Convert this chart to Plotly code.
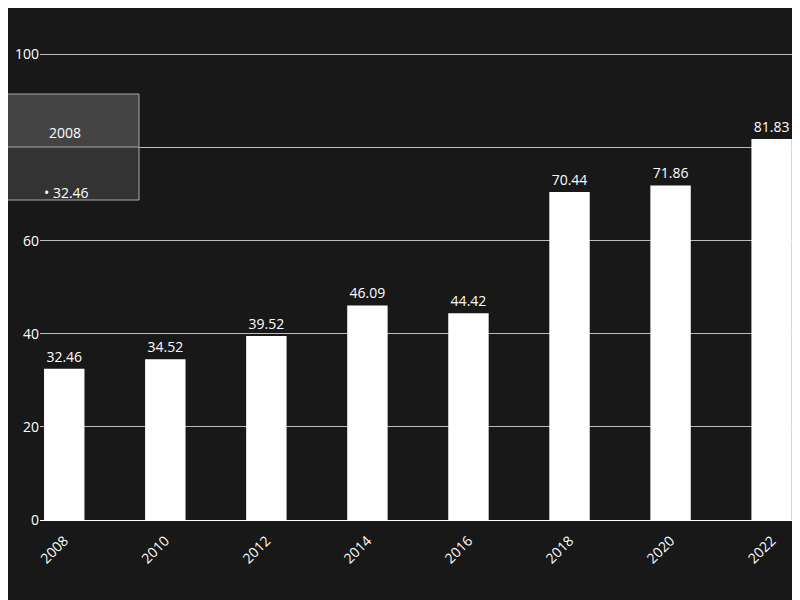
import plotly.graph_objects as go

years = ["2008", "2010", "2012", "2014", "2016", "2018", "2020", "2022"]
values = [32.46, 34.52, 39.52, 46.09, 44.42, 70.44, 71.86, 81.83]
yticks = [0, 20, 40, 60, 80, 100]

OFF = 8  # page body offset
W, H = 800, 600
L, T = 40 - OFF, 53 - OFF
B = H - (520 - OFF)
R = 0
pw, ph = W - L - R, H - T - B
def px(x): return (x - OFF - L) / pw
def py(y): return (H - B - (y - OFF)) / ph

fig = go.Figure(go.Bar(
    x=list(range(len(years))), y=values, width=0.4,
    marker=dict(color="#ffffff", line=dict(width=0)),
    text=[f"{v:.2f}" for v in values], textposition="outside",
    textfont=dict(color="#ffffff", size=14), cliponaxis=False,
))
fig.update_layout(
    width=W, height=H, margin=dict(l=L, r=R, t=T, b=B),
    paper_bgcolor="#181818", plot_bgcolor="#181818",
    font=dict(family="Open Sans", color="#ffffff", size=14),
    showlegend=False,
    xaxis=dict(range=[-0.24, 7.36], tickvals=list(range(len(years))), ticktext=years,
               tickangle=-45, showgrid=False, showline=True, linecolor="#ffffff",
               ticks="outside", ticklen=6, tickcolor="rgba(0,0,0,0)", tickfont=dict(size=14)),
    yaxis=dict(range=[0, 100.3], tickvals=yticks, gridcolor="#bbbbbb", gridwidth=1,
               zeroline=False, tickfont=dict(size=14)),
    shapes=[
        dict(type="rect", xref="paper", yref="paper", x0=px(-10), x1=px(139), y0=py(94), y1=py(147),
             fillcolor="#444444", line=dict(width=0), layer="above"),
        dict(type="rect", xref="paper", yref="paper", x0=px(-10), x1=px(139), y0=py(147), y1=py(200),
             fillcolor="#333333", line=dict(width=0), layer="above"),
        dict(type="rect", xref="paper", yref="paper", x0=px(-10), x1=px(139), y0=py(94), y1=py(200),
             line=dict(color="#aaaaaa", width=1), layer="above"),
        dict(type="line", xref="paper", yref="paper", x0=px(-10), x1=px(139), y0=py(147), y1=py(147),
             line=dict(color="#aaaaaa", width=1), layer="above"),
    ],
    annotations=[
        dict(xref="paper", yref="paper", x=px(47), y=py(121), text=years[0], showarrow=False,
             xanchor="left", font=dict(size=14, color="#ffffff")),
        dict(xref="paper", yref="paper", x=px(42), y=py(181), text=f"• {values[0]:.2f}", showarrow=False,
             xanchor="left", font=dict(size=14, color="#ffffff")),
    ],
)
fig.write_html("out.html")
